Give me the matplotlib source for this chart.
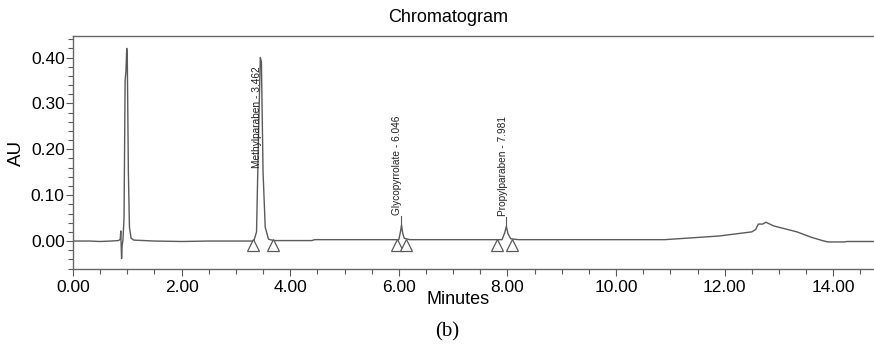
import matplotlib.pyplot as plt
from matplotlib.ticker import MultipleLocator

# trace (minutes, AU)
t = [0.00, 0.30, 0.50, 0.70, 0.84, 0.87, 0.88, 0.885, 0.895, 0.905, 0.92, 0.94, 0.96, 0.975,
     0.99, 1.00, 1.02, 1.04, 1.07, 1.12, 1.50, 2.00, 2.50, 3.00, 3.33, 3.38, 3.42, 3.45,
     3.47, 3.50, 3.54, 3.60, 3.70, 4.40, 4.45, 6.00, 6.03, 6.05, 6.07, 6.10, 6.20, 7.90,
     7.95, 7.98, 8.01, 8.06, 8.20, 10.90, 11.90, 12.50, 12.57, 12.62, 12.70, 12.76, 12.90,
     13.33, 13.60, 13.80, 13.90, 14.20, 14.25, 14.75]
au = [0.000, 0.000, -0.001, 0.000, 0.001, 0.004, 0.022, 0.000, -0.038, -0.010, 0.002, 0.050,
      0.350, 0.370, 0.420, 0.400, 0.150, 0.030, 0.006, 0.002, 0.000, -0.001, 0.000, 0.000,
      0.000, 0.020, 0.250, 0.400, 0.390, 0.150, 0.030, 0.004, 0.001, 0.001, 0.003, 0.003,
      0.020, 0.035, 0.018, 0.006, 0.003, 0.003, 0.018, 0.032, 0.016, 0.005, 0.003, 0.003,
      0.011, 0.020, 0.025, 0.037, 0.037, 0.041, 0.033, 0.020, 0.008, 0.001, -0.002, -0.002,
      -0.001, -0.001]

# named peaks
peak_names = ['Methylparaben', 'Glycopyrrolate', 'Propylparaben']
peak_rt = [3.462, 6.046, 7.981]
peak_top = [0.400, 0.035, 0.032]
label_x = [3.39, 5.97, 7.92]
label_y = [0.160, 0.057, 0.055]
# integration start/end marks
mark_t = [3.32, 3.69, 5.96, 6.14, 7.80, 8.08]

plt.rcParams['font.family'] = ['Liberation Sans', 'DejaVu Sans']
col = '#5a5a5a'

fig = plt.figure(figsize=(8.74, 3.46), dpi=100)
ax = fig.add_axes([0.0835, 0.2225, 0.9165, 0.6735])

ax.plot(t, au, color=col, lw=1.0)
ax.plot(mark_t, [-0.009] * len(mark_t), '^', markersize=9, markerfacecolor='white',
        markeredgecolor=col, markeredgewidth=0.9, linestyle='None')

for name, rt, top, lx, ly in zip(peak_names, peak_rt, peak_top, label_x, label_y):
    if top < ly:
        ax.plot([rt, rt], [top, ly - 0.002], color=col, lw=0.8)
    ax.text(lx, ly, '%s - %.3f' % (name, rt), rotation=90, ha='center', va='bottom',
            fontsize=7.3, color='#222222',
            family=['Liberation Sans Narrow', 'Liberation Sans'])

ax.set_xlim(0, 14.75)
ax.set_ylim(-0.061, 0.447)
ax.xaxis.set_major_locator(MultipleLocator(2))
ax.xaxis.set_minor_locator(MultipleLocator(0.5))
ax.yaxis.set_major_locator(MultipleLocator(0.1))
ax.yaxis.set_minor_locator(MultipleLocator(0.02))
ax.xaxis.set_major_formatter(lambda v, p: '%.2f' % v)
ax.yaxis.set_major_formatter(lambda v, p: '%.2f' % v)
ax.tick_params(axis='both', which='major', labelsize=12.5, length=5, color=col, width=0.8)
ax.tick_params(axis='both', which='minor', length=3.5, color=col, width=0.8)
ax.tick_params(axis='y', pad=1)
ax.tick_params(axis='x', pad=3)

ax.spines['right'].set_visible(False)
for s in ['left', 'top', 'bottom']:
    ax.spines[s].set_color('#666666')
    ax.spines[s].set_linewidth(1.0)

ax.set_ylabel('AU', fontsize=13.5, labelpad=4)
fig.text(0.513, 0.948, 'Chromatogram', fontsize=13, ha='center', va='center')
fig.text(0.524, 0.135, 'Minutes', fontsize=13, ha='center', va='center')
fig.text(0.512, 0.04, '(b)', fontsize=15, ha='center', va='center', family='Liberation Serif')

fig.savefig('out.png', dpi=100)
